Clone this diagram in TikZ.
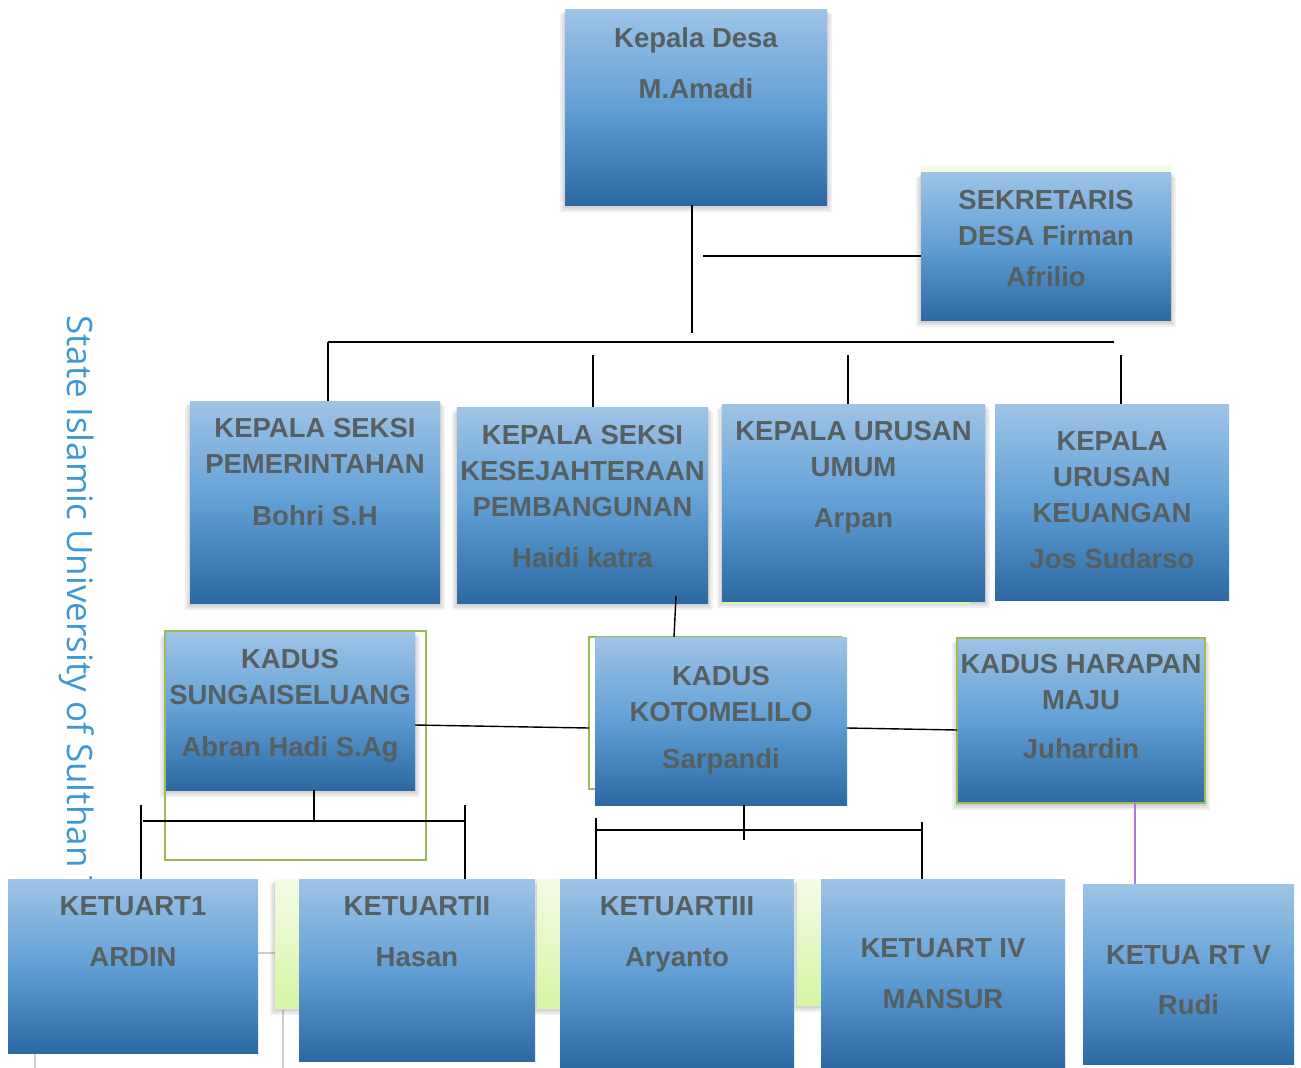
\documentclass[tikz,border=0pt]{standalone}
\usepackage{fontspec}
\setmainfont{Liberation Sans}
\newfontfamily\wmfont{Open Sans}
\usetikzlibrary{calc}
\definecolor{txtc}{RGB}{86,96,96}
\definecolor{btop}{RGB}{158,196,230}
\definecolor{bmid}{RGB}{98,159,213}
\definecolor{bbot}{RGB}{44,104,162}
\definecolor{gline}{RGB}{155,187,89}
\definecolor{gtop}{RGB}{244,251,230}
\definecolor{gbot}{RGB}{214,246,164}
\definecolor{wmc}{RGB}{62,152,214}
\definecolor{purp}{RGB}{178,120,222}
\definecolor{artgray}{RGB}{205,205,205}
\newcommand\boxshadow[1]{%
  \foreach \s in {1,3,5}{%
    \fill[black,opacity=0.06] ($(#1.north west)+(-\s,\s)$) rectangle ($(#1.south east)+(\s,\s+2)$);}}
\begin{document}
\begin{tikzpicture}[x=1pt,y=-1pt,
  box/.style={rectangle, inner sep=0pt, outer sep=0pt, top color=btop, bottom color=bbot, middle color=bmid},
  gbox/.style={rectangle, inner sep=0pt, outer sep=0pt, top color=gtop, bottom color=gbot},
  gframe/.style={rectangle, inner sep=0pt, outer sep=0pt, draw=gline, line width=2pt},
  lbl/.style={anchor=north, inner sep=0pt, align=center, text=txtc, font=\bfseries\fontsize{27.5}{36}\selectfont},
  wm/.style={rotate=-90, anchor=base west, inner sep=0pt, text=wmc, font=\wmfont\fontsize{35}{35}\selectfont},
  conn/.style={draw=black, line width=2pt},
  thinconn/.style={draw=black, line width=1.4pt},
  vioconn/.style={draw=purp, line width=1.2pt},
  artline/.style={draw=artgray, line width=1.2pt}]
\fill[white] (0,0) rectangle (1301,1068);
\useasboundingbox (0,0) rectangle (1301,1068);
\clip (0,0) rectangle (1301,1068);

% watermark
\node[wm] (wmk) at (67,315) {State Islamic University of Sulthan Thaha};

% faint artefacts
\draw[artline] (258,953) -- (275,953);
\draw[artline] (283,1010) -- (283,1068);
\draw[artline] (35,1053) -- (35,1068);

% placement of boxes (shapes only; shadows drawn first)
\path (696,107) node[minimum width=262pt, minimum height=196pt, inner sep=0pt] (kdp) {}
      (1046,246) node[minimum width=250pt, minimum height=148pt, inner sep=0pt] (sekp) {}
      (315,502) node[minimum width=250pt, minimum height=202pt, inner sep=0pt] (ks1p) {}
      (582.5,505) node[minimum width=251pt, minimum height=196pt, inner sep=0pt] (ks2p) {}
      (853.5,502.5) node[minimum width=263pt, minimum height=197pt, inner sep=0pt] (ku1p) {}
      (290,711) node[minimum width=250pt, minimum height=158pt, inner sep=0pt] (kd1p) {}
      (1081,720.5) node[minimum width=248pt, minimum height=165pt, inner sep=0pt] (kd3p) {}
      (397.5,943.5) node[minimum width=245pt, minimum height=129pt, inner sep=0pt] (g1p) {}
      (588.5,943.5) node[minimum width=103pt, minimum height=129pt, inner sep=0pt] (g2p) {}
      (848.5,942) node[minimum width=103pt, minimum height=126pt, inner sep=0pt] (g3p) {};
\foreach \n in {kdp,sekp,ks1p,ks2p,ku1p,kd1p,kd3p,g1p,g2p,g3p}{\boxshadow{\n}}

% pale green strips
\fill[gtop] (921,166) rectangle (1171,173);
\fill[gbot] (722,600) rectangle (970,604);

% green outline behind Kotomelilo
\node[gframe, minimum width=252pt, minimum height=152pt] (kd2g) at (715,713) {};

% boxes
\node[box, minimum width=262pt, minimum height=196pt] (kd) at (696,107) {};
\node[box, minimum width=250pt, minimum height=148pt] (sek) at (1046,246) {};
\node[box, minimum width=250pt, minimum height=202pt] (ks1) at (315,502) {};
\node[box, minimum width=251pt, minimum height=196pt] (ks2) at (582.5,505) {};
\node[box, minimum width=263pt, minimum height=197pt] (ku1) at (853.5,502.5) {};
\node[box, minimum width=234pt, minimum height=196pt] (ku2) at (1112,502) {};
\node[box, minimum width=250pt, minimum height=158pt] (kd1) at (290,711) {};
\node[box, minimum width=252pt, minimum height=168pt] (kd2) at (721,721) {};
\node[box, minimum width=248pt, minimum height=165pt, draw=gline, line width=2pt] (kd3) at (1081,720.5) {};
\node[gbox, minimum width=245pt, minimum height=129pt] (g1) at (397.5,943.5) {};
\node[gbox, minimum width=103pt, minimum height=129pt] (g2) at (588.5,943.5) {};
\node[gbox, minimum width=103pt, minimum height=126pt] (g3) at (848.5,942) {};
\node[box, minimum width=250pt, minimum height=174pt] (rt1) at (133,966) {};
\node[box, minimum width=236pt, minimum height=182pt] (rt2) at (417,970) {};
\node[box, minimum width=234pt, minimum height=189pt] (rt3) at (677,973.5) {};
\node[box, minimum width=244pt, minimum height=189pt] (rt4) at (943,973.5) {};
\node[box, minimum width=211pt, minimum height=180pt] (rt5) at (1188.5,974) {};

% green outline around Sungaiseluang
\node[gframe, minimum width=261pt, minimum height=229pt] (kd1g) at (295.5,745.5) {};

% connectors
\coordinate (busL) at (328,342);
\coordinate (busR) at (1114,342);
\coordinate (sekj) at (703,256);
\draw[conn] ([xshift=-4pt]kd.south) -- ++(0,128);
\draw[conn] (sekj) -- (sekj -| sek.west);
\draw[conn, line width=2.4pt] (busL) -- (busR);
\draw[conn] (ks1.north -| busL) -- (busL);
\draw[conn] ([xshift=10pt]ks2.north) -- ++(0,-52);
\draw[conn] ([xshift=-5.5pt]ku1.north) -- ++(0,-49);
\draw[conn] ([xshift=9pt]ku2.north) -- ++(0,-49);
\draw[thinconn] ([xshift=93.5pt,yshift=7pt]ks2.south) -- ([xshift=-47pt]kd2.north);
\draw[thinconn] ([yshift=-14pt]kd1.east) -- ([yshift=-15pt]kd2g.west);
\draw[thinconn] ([yshift=-7pt]kd2.east) -- ([yshift=-9.5pt]kd3.west);

\coordinate (b1L) at (143,821);
\coordinate (b1R) at (465,821);
\draw[conn] ([xshift=24pt]kd1.south) -- (b1L -| 314,0);
\draw[conn] (b1L) -- (b1R);
\draw[conn] ([xshift=8pt]rt1.north) -- ++(0,-74);
\draw[conn] ([xshift=48pt]rt2.north) -- ++(0,-74);

\coordinate (b2L) at (595,830);
\coordinate (b2R) at (922,830);
\draw[conn] ([xshift=23pt]kd2.south) -- ++(0,35);
\draw[conn] (b2L) -- (b2R);
\draw[conn] ([xshift=-81pt]rt3.north) -- ++(0,-61);
\draw[conn] ([xshift=-21pt]rt4.north) -- ++(0,-57);
\draw[vioconn] ([xshift=54pt]kd3.south) -- ([xshift=-53.5pt]rt5.north);

% texts
\node[lbl] (tkd) at (696,27.5) {Kepala Desa\\[15pt]M.Amadi};
\node[lbl] (tsek) at (1046,190.5) {SEKRETARIS\\DESA Firman\\[5pt]Afrilio};
\node[lbl] (tks1) at (315,418.5) {KEPALA SEKSI\\PEMERINTAHAN\\[16pt]Bohri S.H};
\node[lbl] (tks2) at (582.5,425.5) {KEPALA SEKSI\\KESEJAHTERAAN\\PEMBANGUNAN\\[15pt]Haidi katra};
\node[lbl] (tku1) at (853.5,421.5) {KEPALA URUSAN\\UMUM\\[15pt]Arpan};
\node[lbl] (tku2) at (1112,431.5) {KEPALA\\URUSAN\\KEUANGAN\\[10pt]Jos Sudarso};
\node[lbl] (tkd1) at (290,649.5) {KADUS\\SUNGAISELUANG\\[16pt]Abran Hadi S.Ag};
\node[lbl] (tkd2) at (721,666.5) {KADUS\\KOTOMELILO\\[11pt]Sarpandi};
\node[lbl] (tkd3) at (1081,654.5) {KADUS HARAPAN\\MAJU\\[13pt]Juhardin};
\node[lbl] (trt1) at (133,896.5) {KETUART1\\[15pt]ARDIN};
\node[lbl] (trt2) at (417,896.5) {KETUARTII\\[15pt]Hasan};
\node[lbl] (trt3) at (677,896.5) {KETUARTIII\\[15pt]Aryanto};
\node[lbl] (trt4) at (943,938.5) {KETUART IV\\[15pt]MANSUR};
\node[lbl] (trt5) at (1188.5,945.5) {KETUA RT V\\[14pt]Rudi};
\end{tikzpicture}
\end{document}
